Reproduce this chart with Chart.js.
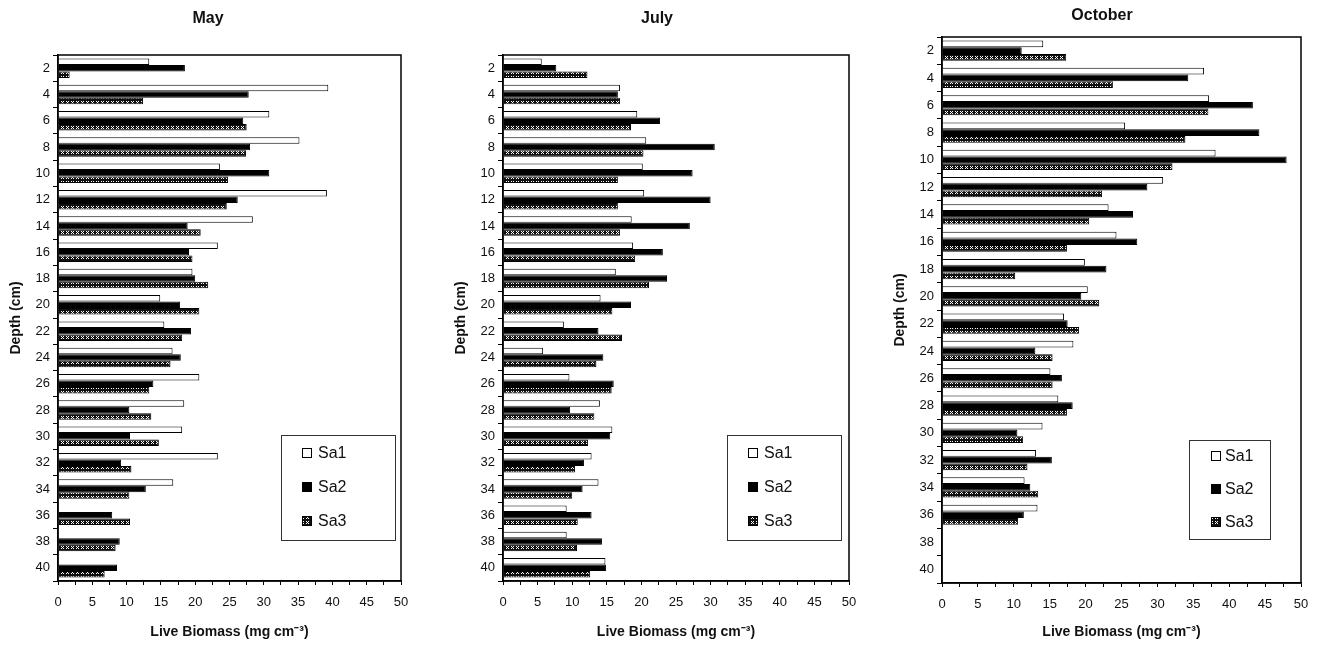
<!DOCTYPE html>
<html>
<head>
<meta charset="utf-8">
<title>Live Biomass</title>
<script src="https://cdn.jsdelivr.net/npm/chart.js@4.4.1/dist/chart.umd.min.js"></script>
<style>
  body { margin: 0; width: 1321px; height: 646px; overflow: hidden; background: #fff; position: relative; }
  canvas { position: absolute; top: 0; }
</style>
</head>
<body>
<canvas id="chart-may" width="419" height="646" style="left:0"></canvas>
<canvas id="chart-july" width="452" height="646" style="left:445px"></canvas>
<canvas id="chart-october" width="466" height="646" style="left:884px"></canvas>
<script>
// Données (mg cm-3), profondeur en cm
const depths = ['2', '4', '6', '8', '10', '12', '14', '16', '18', '20', '22', '24', '26', '28', '30', '32', '34', '36', '38', '40'];
const seriesNames = ['Sa1', 'Sa2', 'Sa3'];

const maySa1 = [13.3, 39.4, 30.8, 35.2, 23.6, 39.2, 28.4, 23.3, 19.6, 14.9, 15.5, 16.7, 20.6, 18.4, 18.1, 23.3, 16.8, null, null, null];
const maySa2 = [18.5, 27.8, 27.0, 28.0, 30.8, 26.2, 18.9, 19.1, 20.0, 17.8, 19.4, 17.9, 13.9, 10.4, 10.5, 9.2, 12.8, 7.9, 9.0, 8.6];
const maySa3 = [1.7, 12.4, 27.5, 27.4, 24.8, 24.6, 20.8, 19.6, 21.9, 20.6, 18.1, 16.4, 13.3, 13.6, 14.7, 10.7, 10.4, 10.5, 8.4, 6.8];

const julySa1 = [5.6, 16.9, 19.4, 20.7, 20.2, 20.4, 18.6, 18.8, 16.3, 14.1, 8.8, 5.8, 9.6, 14.0, 15.8, 12.8, 13.8, 9.2, 9.2, 14.8];
const julySa2 = [7.7, 16.6, 22.7, 30.6, 27.4, 30.0, 27.0, 23.1, 23.7, 18.5, 13.8, 14.5, 16.0, 9.7, 15.5, 11.7, 11.5, 12.8, 14.3, 14.9];
const julySa3 = [12.2, 16.9, 18.5, 20.3, 16.6, 16.6, 16.9, 19.1, 21.1, 15.8, 17.2, 13.5, 15.7, 13.2, 12.3, 10.4, 10.0, 10.8, 10.7, 12.6];

const octSa1 = [14.1, 36.5, 37.2, 25.5, 38.1, 30.8, 23.2, 24.3, 19.9, 20.3, 17.0, 18.3, 15.1, 16.2, 14.0, 13.1, 11.5, 13.3, null, null];
const octSa2 = [11.1, 34.3, 43.3, 44.2, 48.0, 28.6, 26.6, 27.2, 22.9, 19.4, 17.5, 13.0, 16.7, 18.2, 10.5, 15.3, 12.3, 11.4, null, null];
const octSa3 = [17.3, 23.8, 37.1, 33.9, 32.1, 22.3, 20.5, 17.4, 10.2, 21.9, 19.1, 15.4, 15.4, 17.4, 11.3, 11.9, 13.4, 10.6, null, null];

const FONT = "'Liberation Sans', Arial, sans-serif";

// Motif hachuré pour Sa3
function makeHatch() {
    const tile = document.createElement('canvas');
    tile.width = 5;
    tile.height = 5;
    const c = tile.getContext('2d');
    c.fillStyle = '#111';
    c.fillRect(0, 0, 5, 5);
    c.fillStyle = '#fff';
    [[1, 1], [3, 1], [2, 2], [1, 3], [3, 3]].forEach(([x, y]) => c.fillRect(x, y, 1, 1));
    return document.createElement('canvas').getContext('2d').createPattern(tile, 'repeat');
}
const hatch = makeHatch();
const fills = ['#fff', '#000', hatch];

// Cadre autour de la zone de tracé
const framePlugin = {
    id: 'frame',
    afterDraw(chart) {
        const { ctx, chartArea: a } = chart;
        ctx.save();
        ctx.strokeStyle = '#000';
        ctx.lineWidth = 1.5;
        ctx.strokeRect(a.left, a.top, a.right - a.left, a.bottom - a.top);
        ctx.restore();
    }
};

// Titre du panneau, placé librement au-dessus du cadre
const panelTitlePlugin = {
    id: 'panelTitle',
    afterDraw(chart, args, opts) {
        const { ctx } = chart;
        ctx.save();
        ctx.font = 'bold 16px ' + FONT;
        ctx.fillStyle = '#111';
        ctx.textAlign = 'center';
        ctx.textBaseline = 'middle';
        ctx.fillText(opts.text, opts.x, opts.y);
        ctx.restore();
    }
};

// Légende encadrée dans la zone de tracé
const boxLegendPlugin = {
    id: 'boxLegend',
    afterDraw(chart, args, opts) {
        const { ctx } = chart;
        ctx.save();
        ctx.fillStyle = '#fff';
        ctx.fillRect(opts.left, opts.top, opts.width, opts.height);
        ctx.strokeStyle = '#333';
        ctx.lineWidth = 1;
        ctx.strokeRect(opts.left + 0.5, opts.top + 0.5, opts.width, opts.height);
        ctx.font = '16px ' + FONT;
        ctx.textBaseline = 'middle';
        chart.data.datasets.forEach((ds, i) => {
            const y = opts.firstRow + i * opts.rowGap;
            ctx.fillStyle = ds.backgroundColor;
            ctx.fillRect(opts.swatchX, y - 5, 10, 10);
            ctx.strokeStyle = '#000';
            ctx.strokeRect(opts.swatchX + 0.5, y - 4.5, 9, 9);
            ctx.fillStyle = '#111';
            ctx.fillText(ds.label, opts.textX, y + 1);
        });
        ctx.restore();
    }
};

function makeChart(id, title, values, layout) {
    const ctx = document.getElementById(id).getContext('2d');
    return new Chart(ctx, {
        type: 'bar',
        data: {
            labels: depths,
            datasets: values.map((v, i) => ({
                label: seriesNames[i],
                data: v,
                backgroundColor: fills[i],
                borderColor: '#000',
                borderWidth: 1,
                categoryPercentage: 0.74,
                barPercentage: 1.0,
            })),
        },
        options: {
            indexAxis: 'y',
            responsive: false,
            animation: false,
            layout: { padding: { left: 0, right: layout.rightPad, top: layout.topPad, bottom: 0 } },
            plugins: {
                legend: { display: false },
                tooltip: { enabled: false },
                title: { display: false },
                panelTitle: { text: title, x: layout.titleX, y: layout.titleY },
                boxLegend: layout.legend,
            },
            scales: {
                x: {
                    min: 0,
                    max: 50,
                    afterFit: (s) => { s.height = layout.xHeight; },
                    grid: { drawOnChartArea: false, tickLength: 4, color: '#000' },
                    border: { color: '#000', width: 1.5 },
                    ticks: {
                        stepSize: 2.5,
                        autoSkip: false,
                        maxRotation: 0,
                        padding: 10,
                        color: '#111',
                        font: { family: FONT, size: 13 },
                        callback: (v) => (v % 5 === 0 ? v : ''),
                    },
                    title: {
                        display: true,
                        text: 'Live Biomass (mg cm\u207B\u00B3)',
                        color: '#111',
                        font: { family: FONT, size: 14, weight: 'bold' },
                        padding: { top: 5, bottom: 5 },
                    },
                },
                y: {
                    type: 'category',
                    offset: true,
                    afterFit: (s) => { s.width = 58; },
                    grid: { offset: true, drawOnChartArea: false, tickLength: 5, color: '#000' },
                    border: { color: '#000', width: 1.5 },
                    ticks: {
                        padding: 3,
                        autoSkip: false,
                        color: '#111',
                        font: { family: FONT, size: 13 },
                    },
                    title: {
                        display: true,
                        text: 'Depth (cm)',
                        color: '#111',
                        font: { family: FONT, size: 14, weight: 'bold' },
                        padding: { top: 8, bottom: 8 },
                    },
                },
            },
        },
        plugins: [framePlugin, panelTitlePlugin, boxLegendPlugin],
    });
}

makeChart('chart-may', 'May', [maySa1, maySa2, maySa3], {
    rightPad: 18,
    topPad: 55,
    titleX: 208,
    titleY: 19,
    xHeight: 65,
    legend: { left: 281, top: 435, width: 114, height: 105, swatchX: 302, textX: 318, firstRow: 453, rowGap: 34 },
});

makeChart('chart-july', 'July', [julySa1, julySa2, julySa3], {
    rightPad: 48,
    topPad: 55,
    titleX: 212,
    titleY: 19,
    xHeight: 65,
    legend: { left: 282, top: 435, width: 114, height: 105, swatchX: 303, textX: 319, firstRow: 453, rowGap: 34 },
});

makeChart('chart-october', 'October', [octSa1, octSa2, octSa3], {
    rightPad: 49,
    topPad: 37,
    titleX: 218,
    titleY: 16,
    xHeight: 63,
    legend: { left: 305, top: 440, width: 81, height: 99, swatchX: 327, textX: 341, firstRow: 456, rowGap: 33 },
});
</script>
</body>
</html>
